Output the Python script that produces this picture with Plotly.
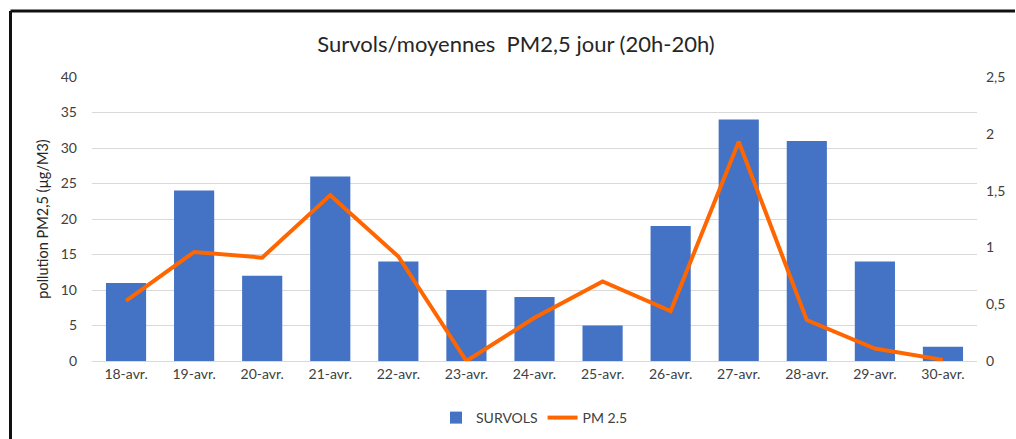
import plotly.graph_objects as go

dates = ["18-avr.", "19-avr.", "20-avr.", "21-avr.", "22-avr.", "23-avr.", "24-avr.",
         "25-avr.", "26-avr.", "27-avr.", "28-avr.", "29-avr.", "30-avr."]
survols = [11, 24, 12, 26, 14, 10, 9, 5, 19, 34, 31, 14, 2]
pm25 = [0.53, 0.96, 0.91, 1.46, 0.92, 0.0, 0.38, 0.70, 0.44, 1.93, 0.36, 0.11, 0.01]

left_ticks = [0, 5, 10, 15, 20, 25, 30, 35, 40]
right_ticks = [0, 0.5, 1, 1.5, 2, 2.5]
right_labels = ["0", "0,5", "1", "1,5", "2", "2,5"]

FONT = "Lato, Calibri, sans-serif"

fig = go.Figure()
fig.add_trace(go.Bar(x=dates, y=survols, name="SURVOLS", marker_color="#4472C4",
                     marker_line_width=0, yaxis="y"))
fig.add_trace(go.Scatter(x=dates, y=pm25, name="PM 2.5", mode="lines",
                         line=dict(color="#FF6600", width=4), yaxis="y2"))

L, R, T, B = 92, 39, 77, 78
W, H = 1016, 439
pw, ph = W - L - R, H - T - B

fig.update_layout(
    width=W, height=H,
    margin=dict(l=L, r=R, t=T, b=B, autoexpand=False),
    paper_bgcolor="white", plot_bgcolor="white",
    font=dict(family=FONT, size=14, color="#595959"),
    title=dict(text="Survols/moyennes  PM2,5 jour (20h-20h)", x=516 / W, xanchor="center",
               xref="container",
               y=1 - 44 / H, yanchor="middle",
               font=dict(family=FONT, size=22, color="#262626")),
    bargap=0.41,
    xaxis=dict(showgrid=False, showline=True, linecolor="#d9d9d9", ticks="",
               automargin=False, tickfont=dict(size=14, color="#404040")),
    yaxis=dict(range=[0, 40], tickvals=left_ticks, showgrid=True, gridcolor="#d9d9d9",
               gridwidth=1, zeroline=False, ticks="", ticklabelstandoff=14,
               automargin=False,
               title=dict(text="pollution PM2,5 (µg/M3)", standoff=8,
                          font=dict(size=14.5, color="#262626")),
               tickfont=dict(size=14, color="#404040")),
    yaxis2=dict(range=[0, 2.5], tickvals=right_ticks, ticktext=right_labels,
                overlaying="y", side="right", showgrid=False, zeroline=False,
                automargin=False,
                ticks="", ticklabelstandoff=8, tickfont=dict(size=14, color="#404040")),
    legend=dict(orientation="h", x=0.5, xanchor="center", y=-(418 - 361) / ph,
                yanchor="middle", font=dict(size=14, color="#404040")),
    showlegend=True,
)

bx, by = 10.5, 11
x_left = (bx - L) / pw
y_top = (T + ph - by) / ph
fig.add_shape(type="line", xref="paper", yref="paper",
              x0=x_left, x1=(W - 1 - L) / pw, y0=y_top, y1=y_top,
              line=dict(color="#111111", width=3), layer="below")
fig.add_shape(type="line", xref="paper", yref="paper",
              x0=x_left, x1=x_left, y0=y_top, y1=-(H + 20 - (T + ph)) / ph,
              line=dict(color="#111111", width=3), layer="below")

fig.write_html("out.html", config={"displayModeBar": False},
               post_script="document.body.style.margin='0px';document.body.style.overflow='hidden';")
